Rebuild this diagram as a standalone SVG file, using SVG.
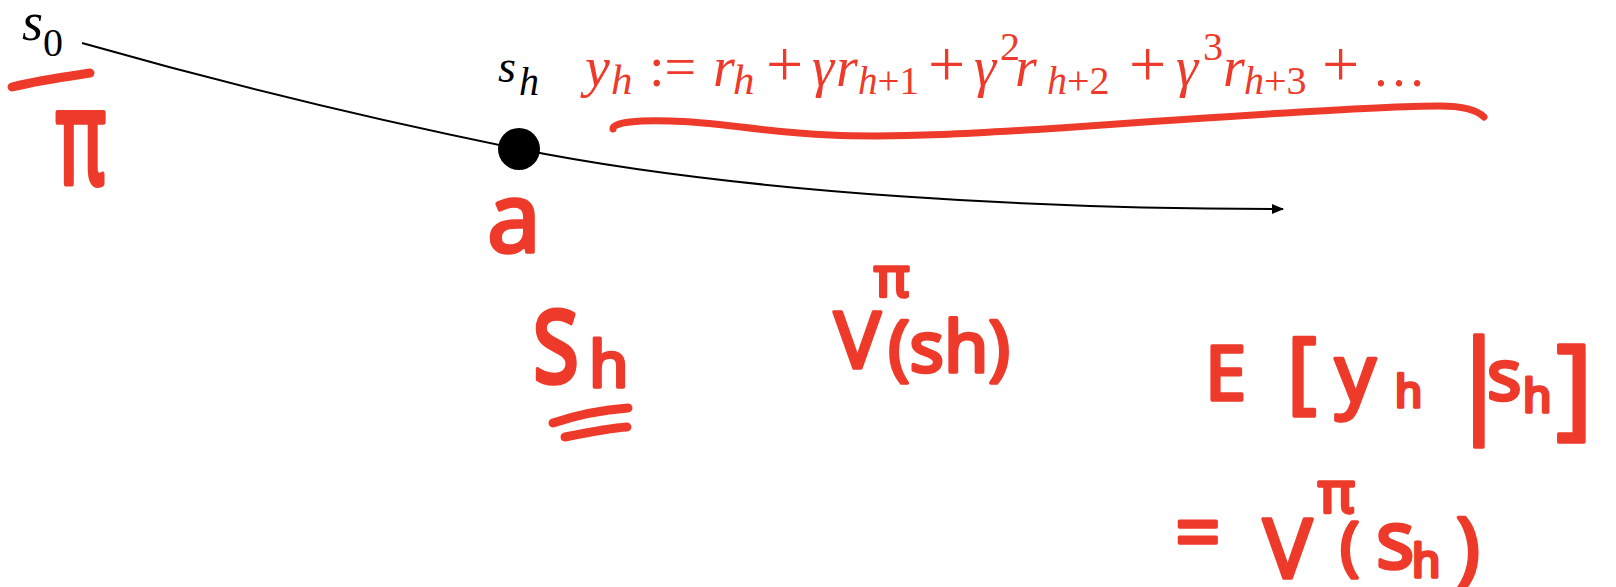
<svg xmlns="http://www.w3.org/2000/svg" width="1616" height="587" viewBox="0 0 1616 587">
<style>
.bk{fill:#000;font-family:"Liberation Serif",serif}
.fm{fill:#EE3A2A;font-family:"Liberation Serif",serif}
.it{font-style:italic}
.hw{fill:#EE3A2A;stroke:#EE3A2A;stroke-width:3.5;stroke-linejoin:round;font-family:"Noto Sans",sans-serif;font-weight:400}
.ink{fill:none;stroke:#EE3A2A;stroke-linecap:round;stroke-linejoin:round}
.edge{fill:none;stroke:#000;stroke-width:2}
</style>
<defs>
<marker id="ah" viewBox="0 0 12 10" refX="11" refY="5" markerWidth="12" markerHeight="10" markerUnits="userSpaceOnUse" orient="auto">
<path d="M0,0 L12,5 L0,10 z" fill="#000"/>
</marker>
</defs>
<rect width="1616" height="587" fill="#fff"/>

<g id="connectors">
<path class="edge" d="M82,43 Q300,105 519,149"/>
<path class="edge" d="M519,149 C750,195 1050,209 1283,209" marker-end="url(#ah)"/>
</g>

<g id="node-s0">
<text class="bk"><tspan class="it" x="22" y="40" font-size="54">s</tspan><tspan x="43" y="56" font-size="40">0</tspan></text>
</g>

<g id="node-sh">
<circle cx="519" cy="149" r="21" fill="#000"/>
<text class="bk"><tspan class="it" x="498" y="82" font-size="46">s</tspan><tspan class="it" x="519" y="95" font-size="40">h</tspan></text>
</g>

<g id="formula">
<text class="fm">
<tspan class="it" x="585" y="86" font-size="56">y</tspan><tspan class="it" x="611" y="94" font-size="43">h</tspan>
<tspan x="649" y="86" font-size="56">:=</tspan>
<tspan class="it" x="713" y="86" font-size="56">r</tspan><tspan class="it" x="733" y="94" font-size="43">h</tspan>
<tspan x="766" y="86" font-size="66">+</tspan>
<tspan class="it" x="812" y="86" font-size="56">γ</tspan><tspan class="it" x="836" y="86" font-size="56">r</tspan><tspan class="it" x="858" y="94" font-size="39">h</tspan><tspan y="94" font-size="39">+1</tspan>
<tspan x="928" y="86" font-size="66">+</tspan>
<tspan class="it" x="974" y="86" font-size="56">γ</tspan><tspan x="1000" y="60" font-size="40">2</tspan><tspan class="it" x="1015" y="86" font-size="56">r</tspan><tspan class="it" x="1047" y="94" font-size="40">h</tspan><tspan y="94" font-size="40">+2</tspan>
<tspan x="1129" y="86" font-size="66">+</tspan>
<tspan class="it" x="1176" y="86" font-size="56">γ</tspan><tspan x="1203" y="60" font-size="40">3</tspan><tspan class="it" x="1223" y="86" font-size="56">r</tspan><tspan class="it" x="1244" y="94" font-size="40">h</tspan><tspan y="94" font-size="40">+3</tspan>
<tspan x="1322" y="86" font-size="66">+</tspan>
<tspan x="1372" y="86" font-size="54">…</tspan>
</text>
<path class="ink" stroke-width="7" d="M613,129 C612,122 640,120 670,121 C720,122 760,132 830,135 C900,138 980,133 1060,128 C1200,118 1380,106 1440,106 C1465,106 1478,111 1484,117"/>
</g>

<g id="note-pi">
<path class="ink" stroke-width="9" d="M12,87 C40,80 70,76 90,73"/>
<text class="hw" transform="translate(56,184) scale(0.95,1.65)" font-size="80">π</text>
</g>

<g id="note-a">
<text class="hw" x="514" y="252" font-size="96" text-anchor="middle">a</text>
</g>

<g id="note-sh">
<text class="hw" transform="translate(532,383) scale(0.78,1.05)"><tspan x="0" y="0" font-size="128">s</tspan></text>
<text class="hw" x="589" y="387" font-size="64">h</text>
<path class="ink" stroke-width="9" d="M553,423 C580,414 600,410 628,408"/>
<path class="ink" stroke-width="9" d="M565,437 C590,432 610,428 627,427"/>
</g>

<g id="note-V">
<text class="hw"><tspan x="834" y="368" font-size="78">V</tspan><tspan x="874" y="296" font-size="54">π</tspan><tspan x="888" y="372" font-size="72">(sh)</tspan></text>
</g>

<g id="note-E">
<text class="hw">
<tspan x="1205" y="400" font-size="74">E</tspan>
<tspan x="1287" y="402" font-size="90">[</tspan>
<tspan x="1335" y="402" font-size="80">y</tspan>
<tspan x="1395" y="407" font-size="44">h</tspan>
<tspan x="1448" y="420" font-size="112">|</tspan>
<tspan x="1487" y="400" font-size="72">s</tspan>
<tspan x="1523" y="412" font-size="46">h</tspan>
<tspan x="1556" y="424" font-size="112">]</tspan>
</text>
</g>

<g id="note-eq">
<text class="hw">
<tspan x="1175" y="560" font-size="80">=</tspan>
<tspan x="1263" y="578" font-size="82">V</tspan>
<tspan x="1318" y="512" font-size="56">π</tspan>
<tspan x="1340" y="568" font-size="64">(</tspan>
<tspan x="1376" y="568" font-size="80">s</tspan>
<tspan x="1412" y="577" font-size="46">h</tspan>
<tspan x="1456" y="575" font-size="80">)</tspan>
</text>
</g>
</svg>
